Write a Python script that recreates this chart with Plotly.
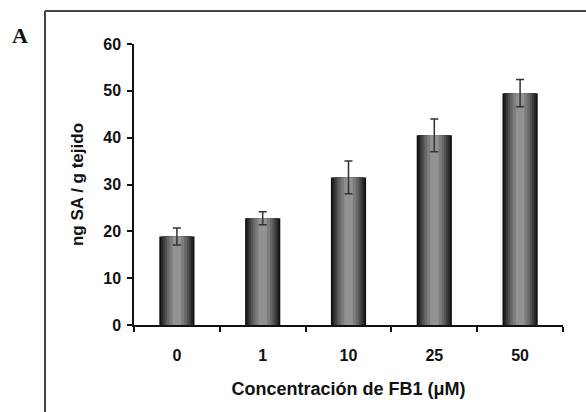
import plotly.graph_objects as go

categories = ["0", "1", "10", "25", "50"]
values = [18.9, 22.8, 31.5, 40.5, 49.5]
errors = [1.8, 1.4, 3.5, 3.5, 2.9]
y_ticks = [0, 10, 20, 30, 40, 50, 60]

W, H = 586, 412
L, R, T, B = 134, 23, 44, 87
pw, ph = W - L - R, H - T - B

def px_x(px):
    return (px - L) / pw

def px_y(py):
    return (H - B - py) / ph

FAM = "Liberation Sans, Arial, sans-serif"
tick_font = dict(family=FAM, size=16, color="#111", weight="bold")
title_font = dict(family=FAM, size=18, color="#111", weight="bold")

fig = go.Figure()
# layered bars to imitate the shaded (dark edge, light centre) texture
layers = [(0.41, "#111111"), (0.37, "#262626"), (0.33, "#3b3b3b"), (0.28, "#525252"),
          (0.23, "#686868"), (0.17, "#7c7c7c"), (0.10, "#929292")]
for i, (w, c) in enumerate(layers):
    last = i == len(layers) - 1
    fig.add_trace(go.Bar(
        x=categories, y=values, width=w,
        marker=dict(color=c, line=dict(width=0)),
        error_y=dict(type="data", array=errors, visible=last, color="#333", thickness=1.5, width=4),
        showlegend=False,
    ))

fig.update_layout(
    width=W, height=H,
    margin=dict(l=L, r=R, t=T, b=B),
    barmode="overlay",
    plot_bgcolor="white", paper_bgcolor="white",
    font=tick_font,
    xaxis=dict(
        type="category", categoryarray=categories,
        showline=True, linecolor="#111", linewidth=1.5,
        ticks="outside", ticklen=5, tickcolor="#111", tickwidth=1.5,
        tickson="boundaries", showgrid=False,
        tickfont=tick_font, ticklabelstandoff=15,
        title=dict(text="Concentración de FB1 (μM)", font=title_font, standoff=19),
    ),
    yaxis=dict(
        range=[0, 60], tickvals=y_ticks,
        showline=True, linecolor="#111", linewidth=1.5,
        ticks="outside", ticklen=5, tickcolor="#111", tickwidth=1.5,
        showgrid=False, zeroline=False,
        tickfont=tick_font, ticklabelstandoff=3,
        title=dict(text="ng SA / g tejido", font=dict(family=FAM, size=17, color="#111", weight="bold"), standoff=15),
    ),
    shapes=[
        dict(type="line", xref="paper", yref="paper", x0=px_x(45), x1=px_x(586), y0=px_y(11), y1=px_y(11),
             line=dict(color="#444", width=2)),
        dict(type="line", xref="paper", yref="paper", x0=px_x(45), x1=px_x(45), y0=px_y(11), y1=px_y(412),
             line=dict(color="#444", width=2)),
    ],
    annotations=[
        dict(text="A", xref="paper", yref="paper", x=px_x(20), y=px_y(35), xanchor="center", yanchor="middle",
             showarrow=False,
             font=dict(family="Liberation Serif, Times New Roman, serif", size=22, color="#111")),
    ],
)

fig.write_html("out.html")
